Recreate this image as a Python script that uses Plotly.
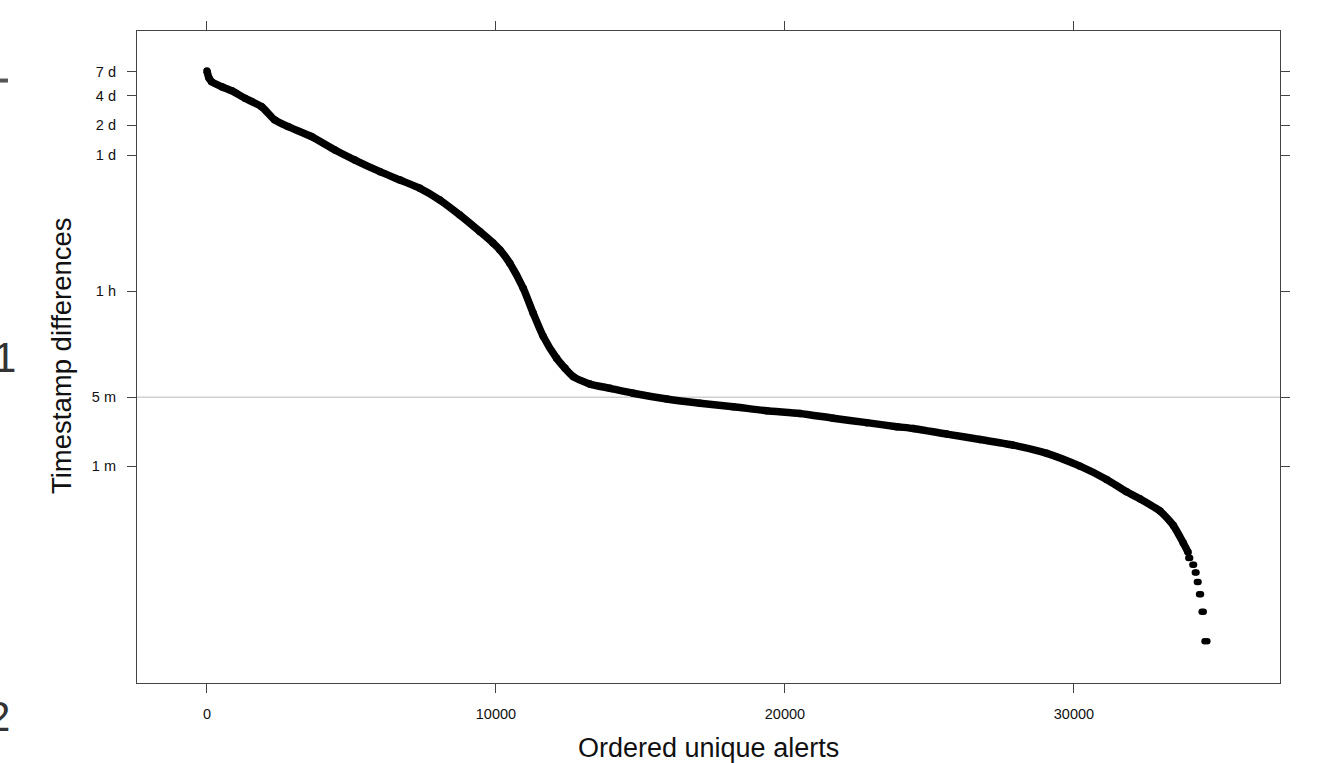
import plotly.graph_objects as go

# ---- data (x = ordered alert index, y = seconds) ----
main_x = [0, 70, 160, 510, 855, 1315, 1890, 2350, 2810, 3620, 4430, 5120, 5990,
          6680, 7370, 8060, 8750, 9450, 9900, 10140, 10480, 10945, 11290, 11640,
          12100, 12390, 12680, 13250, 13950, 14750, 15910, 17060, 18210, 19370,
          20520, 21670, 22830, 23870, 24440, 25600, 26750, 27900, 29060, 30210,
          31130, 31820, 32280, 32980, 33440, 33780, 33950]
main_y = [617000, 524000, 480000, 427000, 389000, 326000, 268000, 196000, 168000,
          133000, 97200, 76900, 58600, 48200, 39700, 30200, 21300, 14400, 11070,
          9400, 6890, 3840, 2140, 1240, 747, 591, 485, 409, 370, 330, 288, 261,
          241, 219, 206, 184, 166, 151, 145, 127, 112, 98, 81, 60, 44, 33, 28, 21,
          15, 10, 8]

# tail: discrete values (seconds), each a short run of equal values
tail_x_start = [33960, 34100, 34185, 34255, 34330, 34420, 34520]
tail_x_end = [34020, 34155, 34240, 34310, 34395, 34490, 34615]
tail_y = [7, 6, 5, 4, 3, 2, 1]

ref_line_y = 300  # 5 minutes

y_tickvals = [60, 300, 3600, 86400, 172800, 345600, 604800]
y_ticktext = ["1 m", "5 m", "1 h", "1 d", "2 d", "4 d", "7 d"]
x_tickvals = [0, 10000, 20000, 30000]
x_ticktext = ["0", "10000", "20000", "30000"]

x_title = "Ordered unique alerts"
y_title = "Timestamp differences"

# ---- figure ----
tail_x, tail_v = [], []
for xs, xe, v in zip(tail_x_start, tail_x_end, tail_y):
    tail_x += [xs, xe]
    tail_v += [v, v]

fig = go.Figure()
fig.add_trace(go.Scatter(
    x=main_x, y=main_y, mode="lines+markers",
    line=dict(color="black", width=7.5, shape="spline", smoothing=0.6),
    marker=dict(color="black", size=7.5),
    showlegend=False, hoverinfo="skip"))
fig.add_trace(go.Scatter(
    x=tail_x, y=tail_v, mode="markers",
    marker=dict(color="black", size=6.5),
    showlegend=False, hoverinfo="skip"))

fig.add_shape(type="line", xref="paper", yref="y", x0=0, x1=1,
              y0=ref_line_y, y1=ref_line_y,
              line=dict(color="#d0d0d0", width=1.5), layer="below")

axis_common = dict(showline=True, linecolor="#444444", linewidth=1.2,
                   mirror="ticks", ticks="outside", ticklen=9, tickwidth=1.2,
                   tickcolor="#444444", showgrid=False, zeroline=False,
                   tickfont=dict(size=14.5, color="#111111"))

fig.update_xaxes(range=[-2420, 37130], tickvals=x_tickvals, ticktext=x_ticktext,
                 ticklabelstandoff=8, **axis_common)
fig.update_yaxes(type="log", range=[-0.423, 6.196], tickvals=y_tickvals,
                 ticktext=y_ticktext, ticklabelstandoff=8, **axis_common)

# axis titles placed as annotations for exact positioning
fig.add_annotation(text=x_title, xref="paper", yref="paper", x=0.5, y=-0.0997,
                   xanchor="center", yanchor="middle", showarrow=False,
                   font=dict(size=27, color="#111111"))
fig.add_annotation(text=y_title, xref="paper", yref="paper", x=-0.0665, y=0.503,
                   xanchor="center", yanchor="middle", showarrow=False,
                   textangle=-90, font=dict(size=27.5, color="#111111"))

# fragments of the surrounding page visible at the left edge
fig.add_annotation(text="1", xref="paper", yref="paper", x=-0.1040, y=0.5,
                   xanchor="right", yanchor="middle", showarrow=False,
                   font=dict(size=42, color="#333333"))
fig.add_annotation(text="2", xref="paper", yref="paper", x=-0.1094, y=-0.052,
                   xanchor="right", yanchor="middle", showarrow=False,
                   font=dict(size=42, color="#333333"))
fig.add_shape(type="line", xref="paper", yref="paper", x0=-0.1199, x1=-0.1129,
              y0=0.9240, y1=0.9240, line=dict(color="#555555", width=4))

fig.update_layout(
    width=1318, height=763,
    margin=dict(l=137, r=38, t=31, b=80),
    paper_bgcolor="white", plot_bgcolor="white",
    font=dict(family="Liberation Sans, Arial, sans-serif", color="#111111"),
)

fig.write_html("out.html",
               config={"displayModeBar": False},
               post_script="document.body.style.margin='0';"
                           "document.body.style.padding='0';")
